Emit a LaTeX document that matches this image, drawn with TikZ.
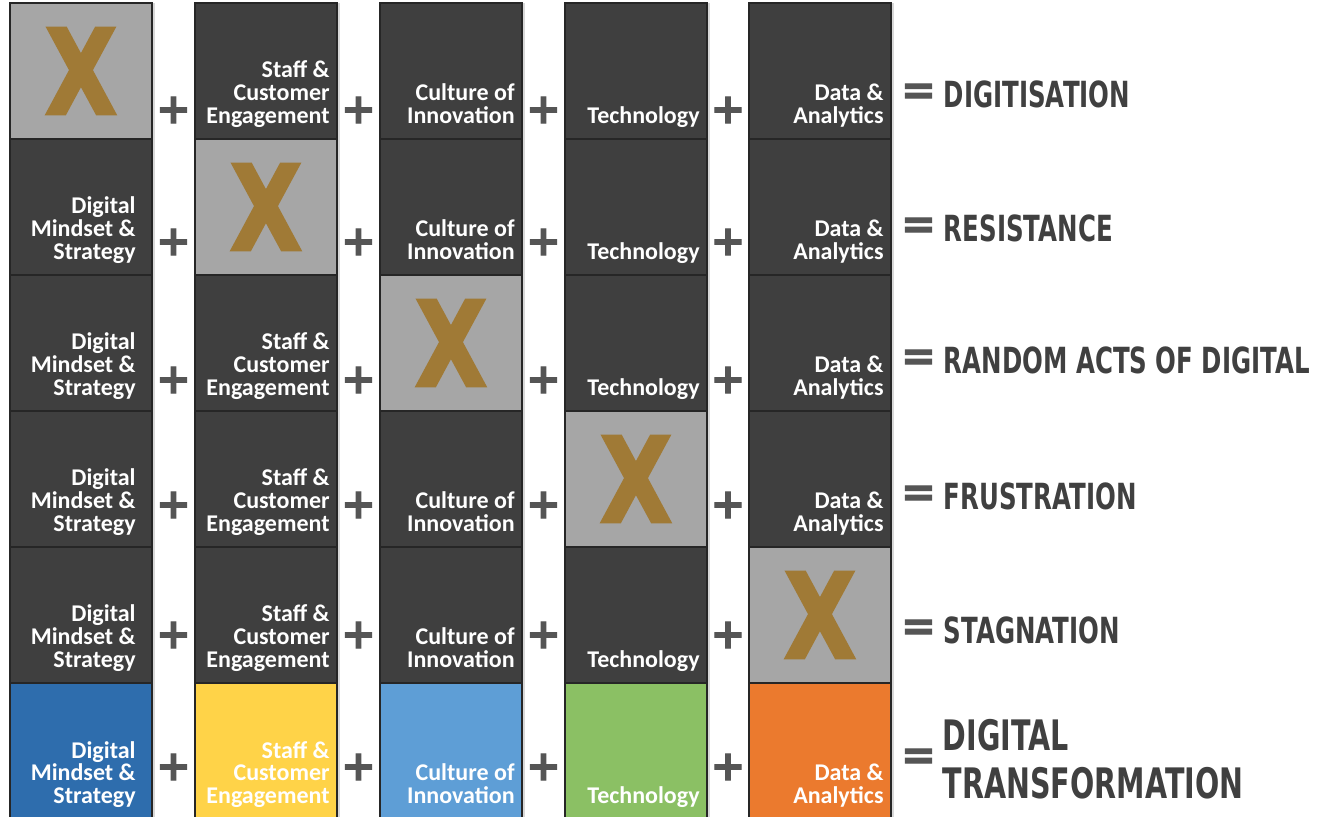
\documentclass[tikz,border=0pt]{standalone}
\usepackage{fontspec}
\usetikzlibrary{positioning,calc,shadows}

\newfontfamily\cellfont{Carlito}
\newfontfamily\headfont{DejaVu Sans}[FakeStretch=0.68]
\newfontfamily\opfont{DejaVu Sans}[FakeBold=2.5]

\definecolor{boxdark}{HTML}{3F3F3F}
\definecolor{boxgrey}{HTML}{A6A6A6}
\definecolor{xgold}{HTML}{A07A36}
\definecolor{opgrey}{HTML}{555555}
\definecolor{titlegrey}{HTML}{404040}
\definecolor{mindblue}{HTML}{2E6DAD}
\definecolor{staffyellow}{HTML}{FFD348}
\definecolor{cultblue}{HTML}{5E9ED6}
\definecolor{techgreen}{HTML}{8BC064}
\definecolor{dataorange}{HTML}{EB7A2E}

\newcommand{\nogo}{\resizebox{36pt}{43pt}{\opfont\bfseries X}}

\begin{document}
\begin{tikzpicture}[x=0.5pt, y=-0.5pt]

    \tikzstyle{cell} = [rectangle, draw=black!85, line width=0.6pt, fill=boxdark, minimum width=71pt, minimum height=68pt, inner sep=0pt, outer sep=0pt, drop shadow={shadow xshift=1.5pt, shadow yshift=0pt, opacity=0.3}]
    \tikzstyle{xcell} = [cell, fill=boxgrey, text=xgold]
    \tikzstyle{ctext} = [anchor=south east, xshift=-3.5pt, yshift=7.5pt, align=right, inner sep=0pt, text depth=0pt, text=white, font=\cellfont\bfseries\fontsize{12}{11.4}\selectfont]
    \tikzstyle{plus} = [inner sep=0pt, text=opgrey, font=\opfont\bfseries\fontsize{21}{21}\selectfont]
    \tikzstyle{result} = [inner sep=0pt, align=left, text=titlegrey, font=\headfont\bfseries\fontsize{18}{18}\selectfont]

    \fill[white, use as bounding box] (0,0) rectangle (1328,817);

    % row 1
    \node (mind1)  [xcell, anchor=north west] at (10,3)                                                  {\nogo};
    \node (staff1) [cell, right=21.5pt of mind1, label={[ctext]south east:{Staff \&\\Customer\\Engagement}}] {};
    \node (cult1)  [cell, right=21.5pt of staff1, label={[ctext]south east:{Culture of\\Innovation}}]      {};
    \node (tech1)  [cell, right=21.5pt of cult1, label={[ctext]south east:Technology}]                     {};
    \node (data1)  [cell, right=21pt of tech1, label={[ctext]south east:{Data \&\\Analytics}}]             {};

    % row 2
    \node (mind2)  [cell, below=0pt of mind1, label={[ctext, xshift=-4.5pt]south east:{Digital\\Mindset \&\\Strategy}}] {};
    \node (staff2) [xcell, below=0pt of staff1]                                                             {\nogo};
    \node (cult2)  [cell, below=0pt of cult1, label={[ctext]south east:{Culture of\\Innovation}}]          {};
    \node (tech2)  [cell, below=0pt of tech1, label={[ctext]south east:Technology}]                        {};
    \node (data2)  [cell, below=0pt of data1, label={[ctext]south east:{Data \&\\Analytics}}]              {};

    % row 3
    \node (mind3)  [cell, below=0pt of mind2, label={[ctext, xshift=-4.5pt]south east:{Digital\\Mindset \&\\Strategy}}] {};
    \node (staff3) [cell, below=0pt of staff2, label={[ctext]south east:{Staff \&\\Customer\\Engagement}}] {};
    \node (cult3)  [xcell, below=0pt of cult2]                                                              {\nogo};
    \node (tech3)  [cell, below=0pt of tech2, label={[ctext]south east:Technology}]                        {};
    \node (data3)  [cell, below=0pt of data2, label={[ctext]south east:{Data \&\\Analytics}}]              {};

    % row 4
    \node (mind4)  [cell, below=0pt of mind3, label={[ctext, xshift=-4.5pt]south east:{Digital\\Mindset \&\\Strategy}}] {};
    \node (staff4) [cell, below=0pt of staff3, label={[ctext]south east:{Staff \&\\Customer\\Engagement}}] {};
    \node (cult4)  [cell, below=0pt of cult3, label={[ctext]south east:{Culture of\\Innovation}}]          {};
    \node (tech4)  [xcell, below=0pt of tech3]                                                              {\nogo};
    \node (data4)  [cell, below=0pt of data3, label={[ctext]south east:{Data \&\\Analytics}}]              {};

    % row 5
    \node (mind5)  [cell, below=0pt of mind4, label={[ctext, xshift=-4.5pt]south east:{Digital\\Mindset \&\\Strategy}}] {};
    \node (staff5) [cell, below=0pt of staff4, label={[ctext]south east:{Staff \&\\Customer\\Engagement}}] {};
    \node (cult5)  [cell, below=0pt of cult4, label={[ctext]south east:{Culture of\\Innovation}}]          {};
    \node (tech5)  [cell, below=0pt of tech4, label={[ctext]south east:Technology}]                        {};
    \node (data5)  [xcell, below=0pt of data4]                                                              {\nogo};

    % row 6
    \node (mind6)  [cell, fill=mindblue, below=0pt of mind5, label={[ctext, xshift=-4.5pt]south east:{Digital\\Mindset \&\\Strategy}}] {};
    \node (staff6) [cell, fill=staffyellow, below=0pt of staff5, label={[ctext]south east:{Staff \&\\Customer\\Engagement}}] {};
    \node (cult6)  [cell, fill=cultblue, below=0pt of cult5, label={[ctext]south east:{Culture of\\Innovation}}]          {};
    \node (tech6)  [cell, fill=techgreen, below=0pt of tech5, label={[ctext]south east:Technology}]                        {};
    \node (data6)  [cell, fill=dataorange, below=0pt of data5, label={[ctext]south east:{Data \&\\Analytics}}]             {};

    % plus signs
    \foreach \r/\h in {1/14.5pt, 2/16.5pt, 3/15.5pt, 4/21pt, 5/24pt, 6/26pt} {
        \node (pa\r) [plus] at ($(mind\r.south east)!.5!(staff\r.south west)+(0,\h)$) {+};
        \node (pb\r) [plus] at ($(staff\r.south east)!.5!(cult\r.south west)+(0,\h)$) {+};
        \node (pc\r) [plus] at ($(cult\r.south east)!.5!(tech\r.south west)+(0,\h)$)  {+};
        \node (pd\r) [plus] at ($(tech\r.south east)!.5!(data\r.south west)+(0,\h)$)  {+};
    }

    % outcomes
    \node (eq1)  [plus] at ($(data1.south east)+(13.75pt,22.5pt)$) {=};
    \node (out1) [result, right=3.5pt of eq1]                      {DIGITISATION};
    \node (eq2)  [plus] at ($(data2.south east)+(13.75pt,23.5pt)$) {=};
    \node (out2) [result, right=3.5pt of eq2]                      {RESISTANCE};
    \node (eq3)  [plus] at ($(data3.south east)+(13.75pt,25.5pt)$) {=};
    \node (out3) [result, right=3.5pt of eq3]                      {RANDOM ACTS OF DIGITAL};
    \node (eq4)  [plus] at ($(data4.south east)+(13.75pt,25.5pt)$) {=};
    \node (out4) [result, right=3.5pt of eq4]                      {FRUSTRATION};
    \node (eq5)  [plus] at ($(data5.south east)+(13.75pt,26.5pt)$) {=};
    \node (out5) [result, right=3.5pt of eq5]                      {STAGNATION};
    \node (eq6)  [plus] at ($(data6.south east)+(13.75pt,30pt)$)   {=};
    \node (out6) [result, font=\headfont\bfseries\fontsize{21}{24}\selectfont, right=3pt of eq6] {DIGITAL\\TRANSFORMATION};

\end{tikzpicture}
\end{document}
